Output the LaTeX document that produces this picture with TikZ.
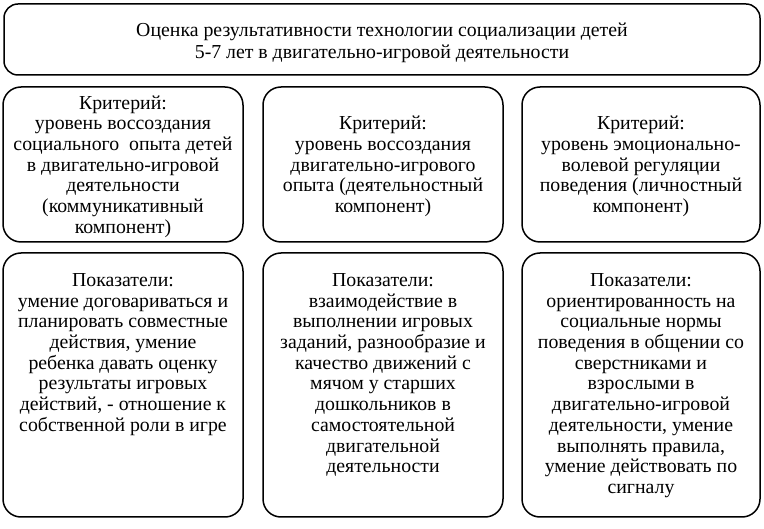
\documentclass[tikz,border=0pt]{standalone}
\usepackage{fontspec}
\setmainfont{Liberation Serif}
\begin{document}
\begin{tikzpicture}[x=1pt,y=1pt,
  frame/.style={draw=black,line width=1.5pt,rounded corners=18pt,inner sep=0pt},
  txt/.style={align=center,inner sep=0pt,font=\fontsize{19.8}{20.7}\selectfont}]
\useasboundingbox (0,0) rectangle (764,-529);
\fill[white] (0,0) rectangle (764,-529);
% top
\node[frame,rounded corners=14pt,minimum width=756pt,minimum height=71pt] (top) at (382,-39.5) {};
\node[txt] (toptxt) at ([yshift=-3pt]top.center) {Оценка результативности технологии социализации детей\\[1.5pt]5-7 лет в двигательно-игровой деятельности};
% row 2
\node[frame,minimum width=240pt,minimum height=155pt] (k1) at (123,-164.5) {};
\node[frame,minimum width=240pt,minimum height=155pt] (k2) at (383,-164.5) {};
\node[frame,minimum width=238pt,minimum height=155pt] (k3) at (641,-164.5) {};
\node[txt] (k1t) at ([yshift=-2pt]k1.center) {Критерий:\\уровень воссоздания\\социального\ \ опыта детей\\в двигательно-игровой\\деятельности\\(коммуникативный\\компонент)};
\node[txt] (k2t) at ([yshift=-2pt]k2.center) {Критерий:\\уровень воссоздания\\двигательно-игрового\\опыта (деятельностный\\компонент)};
\node[txt] (k3t) at ([yshift=-2pt]k3.center) {Критерий:\\уровень эмоционально-\\волевой регуляции\\поведения (личностный\\компонент)};
% row 3
\node[frame,minimum width=240pt,minimum height=264pt] (p1) at (123,-385) {};
\node[frame,minimum width=240pt,minimum height=264pt] (p2) at (383,-385) {};
\node[frame,minimum width=238pt,minimum height=264pt] (p3) at (641,-385) {};
\node[txt,anchor=north] (p1t) at ([yshift=-21pt]p1.north) {Показатели:\\умение договариваться и\\планировать совместные\\действия, умение\\ребенка давать оценку\\результаты игровых\\действий, - отношение к\\собственной роли в игре};
\node[txt,anchor=north] (p2t) at ([yshift=-21pt]p2.north) {Показатели:\\взаимодействие в\\выполнении игровых\\заданий, разнообразие и\\качество движений с\\мячом у старших\\дошкольников в\\самостоятельной\\двигательной\\деятельности};
\node[txt,anchor=north] (p3t) at ([yshift=-21pt]p3.north) {Показатели:\\ориентированность на\\социальные нормы\\поведения в общении со\\сверстниками и\\взрослыми в\\двигательно-игровой\\деятельности, умение\\выполнять правила,\\умение действовать по\\сигналу};
\end{tikzpicture}
\end{document}
